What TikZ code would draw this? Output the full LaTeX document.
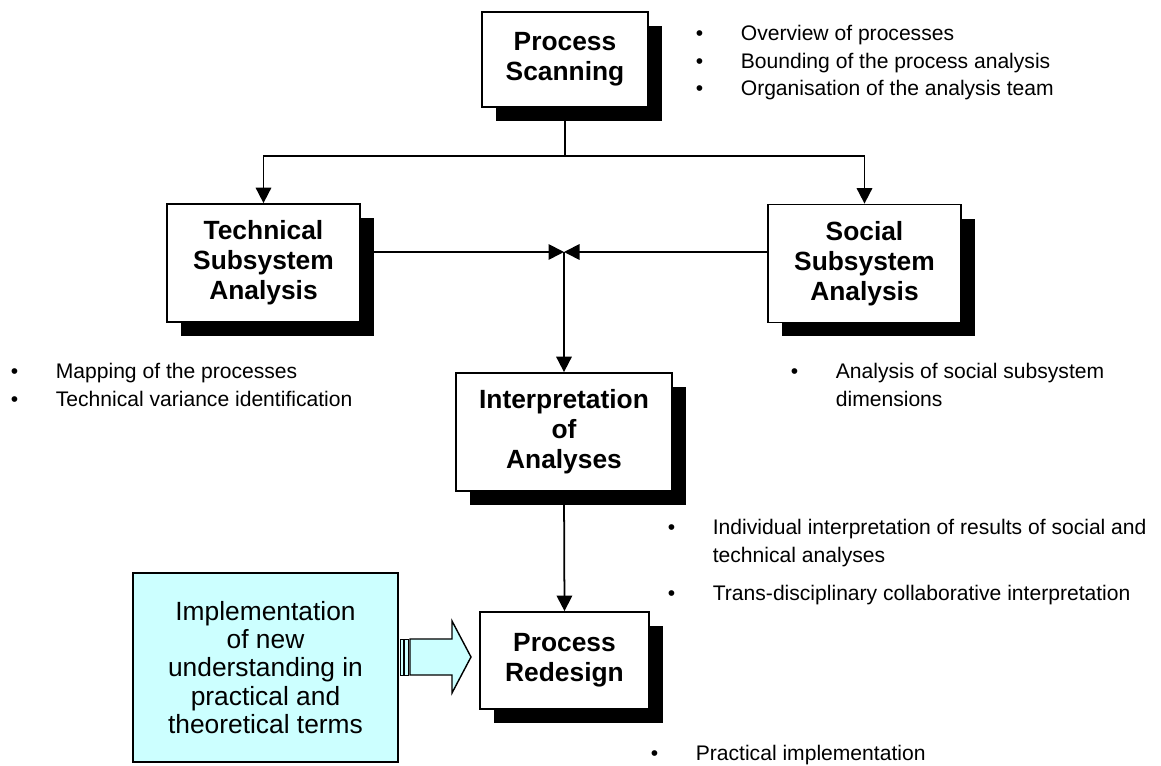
\documentclass[tikz,border=0pt]{standalone}
\usepackage{fontspec}
\setmainfont{Liberation Sans}
\usetikzlibrary{arrows.meta,shadows}
\definecolor{paleblue}{HTML}{CCFFFF}
\tikzstyle{stage}=[draw, line width=1pt, fill=white, align=center,
                   font=\fontsize{15}{17}\selectfont\bfseries,
                   drop shadow={shadow xshift=0.28cm, shadow yshift=-0.28cm,
                                fill=black, opacity=1}]
\tikzstyle{notes}=[anchor=north west, inner sep=0, align=left,
                   font=\fontsize{12}{15.6}\selectfont]
\tikzset{>={Triangle[length=3.1mm,width=3.1mm]}}
\newcommand\bul{\makebox[0.9cm][l]{\strut\textbullet}}
\newcommand\cont{\hspace*{0.9cm}}

\begin{document}
\begin{tikzpicture}[x=0.02cm, y=-0.02cm, line width=1pt,
                    goal/.style = {draw, fill=paleblue, line width=1pt, align=center,
                              minimum width=5.3cm, minimum height=3.78cm,
                              font=\fontsize{15}{16}\selectfont},
                    fat/.style = {draw, fill=paleblue, line width=0.8pt}
               ]
               \useasboundingbox (0,0) rectangle (1161,766);

               % the five stages
               \node[stage, minimum width=3.32cm, minimum height=1.9cm]  (scan)   at (565,59.5)  {Process\\Scanning};
               \node[stage, minimum width=3.86cm, minimum height=2.36cm] (tech)   at (263.5,263) {Technical\\Subsystem\\Analysis};
               \node[stage, minimum width=3.86cm, minimum height=2.36cm] (soc)    at (864.5,263.5) {Social\\Subsystem\\Analysis};
               \node[stage, minimum width=4.32cm, minimum height=2.36cm] (interp) at (564,432)   {Interpretation\\of\\Analyses};
               \node[stage, minimum width=3.38cm, minimum height=1.94cm] (redes)  at (564.5,660.5) {Process\\Redesign};
               \node[goal] (impl) at (265.5,667.5) {Implementation\\of new\\understanding in\\practical and\\theoretical terms};

               % connectors
               \coordinate (split) at (565,156);
               \coordinate (meet)  at (564,252);
               \draw (scan.south) -- (split);
               \draw[->] (split) -| (tech.north);
               \draw[->] (split) -| (soc.north);
               \draw[->] (tech.east |- meet) -- (meet);
               \draw[->] (soc.west |- meet) -- (meet);
               \draw[->] (meet) -- (interp.north);
               \draw[->] (interp.south) -- (redes.north);

               % striped block arrow
               \coordinate (tail) at (398,657);
               \draw[fat] (tail) ++(12,-18) -- ++(42,0) -- ++(0,-18) -- ++(19,36)
                          -- ++(-19,36) -- ++(0,-18) -- ++(-42,0) -- cycle;
               \draw[fat, line width=0.5pt] (tail) ++(2,-18) rectangle ++(3,36);
               \draw[fat, line width=0.5pt] (tail) ++(6.5,-18) rectangle ++(3.5,36);

               % notes
               \node[notes] (scannotes) at (695,20.7)
                    {\bul Overview of processes\\ \bul Bounding of the process analysis\\ \bul Organisation of the analysis team};
               \node[notes] (technotes) at (10,358.7)
                    {\bul Mapping of the processes\\ \bul Technical variance identification};
               \node[notes] (socnotes) at (790,358.7)
                    {\bul Analysis of social subsystem\\ \cont dimensions};
               \node[notes] (interpnotes) at (667,514.7)
                    {\bul Individual interpretation of results of social and\\ \cont technical analyses\\[6pt] \bul Trans-disciplinary collaborative interpretation};
               \node[notes] (redesnotes) at (650,740.7)
                    {\bul Practical implementation};
          \end{tikzpicture}
\end{document}
